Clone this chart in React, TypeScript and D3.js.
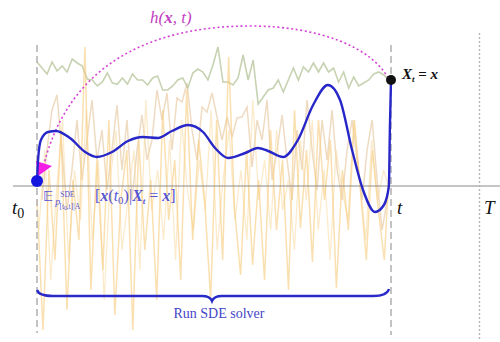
import React from "react";
import * as d3 from "d3";

const W = 500;
const H = 342;

// time marks: t0, t, T
const T_START = 0;
const T_NOW = 100;
const T_END = 125;

// mean trajectory (time, value)
const blueT = [0, 0.3, 1.1, 3.1, 5.4, 9.3, 13.6, 16.9, 21.2, 25.7, 29.9, 34.2, 38.1, 42.7, 46.9, 50.3, 54, 58.8, 62.4, 65.3, 69.5, 73.7, 78, 82.2, 85.6, 89, 92.1, 95.5, 98, 99.4, 99.7, 100];
const blueV = [5, 26, 46, 54, 55, 48, 34, 29, 34, 45, 49, 48, 55, 61, 54, 38, 28, 33, 38, 35, 29, 46, 81, 101, 86, 36, -4, -26, -19, 0, 60, 106];

// sample paths (evenly spaced in time)
const greenV = [124, 118, 112, 124, 115, 120, 114, 127, 123, 120, 107, 106, 100, 104, 113, 103, 102, 108, 102, 112, 106, 106, 101, 108, 110, 96, 96, 100, 106, 108, 98, 113, 117, 114, 106, 121, 139, 104, 104, 101, 108, 131, 106, 126, 82, 89, 96, 98, 106, 94, 106, 118, 106, 119, 114, 123, 114, 123, 114, 118, 104, 114, 98, 109, 100, 103, 106, 112, 114, 111, 106];
const tanV = [-14, 36, 76, 91, 36, -24, 16, 66, 6, 46, 86, 26, 56, -4, 36, 81, 16, 66, -14, 36, 71, 26, 46, 96, 66, 93, 36, 88, 84, 103, 56, 26, 79, 74, 93, 69, 46, 69, 49, 68, 69, 79, 19, 66, 46, 86, 6, 36, 71, 26, -14, 56, 16, 86, 36, -4, 66, 26, 76, 16, -14, 36, 66, 26, -14, 36, 66, 6, -44, -14];
const orangeAV = [-14, -144, 16, -74, 56, -124, 6, -54, 139, -104, 26, -84, 66, -129, -14, 36, -144, 46, -64, 6, -114, 76, -34, 26, -94, 96, -54, 46, -14, -114, 66, -74, 129, -24, -89, 36, -79, 6, -94, 56, -44, 26, -104, 76, -42, 36, -76, 66, -14, 46, -102, 16, -44, 66, -4, -74, 36, -24, -74, 36];
const orangeBV = [-44, 36, -94, -4, 66, -74, 16, -34, 76, -54, 26, -114, 6, 56, -64, -14, 36, -84, 86, -24, 16, -54, 46, -74, 66, -4, -44, 26, -24, 76, -64, 6, 56, -34, 16, -54, 86, -14, 26, -44, 56, -24, 6, -64, 46, -14, 66, -44, 16, -74, 36, -4, -34, 66, 6, -54, 46, -14, 16, -4];

const spread = (vals: number[], a: number, b: number): [number, number][] =>
  vals.map((v, i) => [a + ((b - a) * i) / (vals.length - 1), v]);

const serif = "'Liberation Serif', 'DejaVu Serif', serif";
const labelBlue = "#5555d4";

const App = () => {
  const x = d3.scaleLinear().domain([T_START, T_END]).range([37, 479.5]);
  const y = d3.scaleLinear().domain([0, 100]).range([186, 86]);

  const line = d3
    .line<[number, number]>()
    .x((d) => x(d[0]))
    .y((d) => y(d[1]));
  const smooth = d3
    .line<[number, number]>()
    .x((d) => x(d[0]))
    .y((d) => y(d[1]))
    .curve(d3.curveMonotoneX);

  const bluePts = blueT.map((t, i) => [t, blueV[i]] as [number, number]);

  const x0 = x(T_START);
  const xt = x(T_NOW);
  const xT = x(T_END);
  const yAxis = y(0);
  const dotTop = bluePts[bluePts.length - 1];
  const dotBottom = bluePts[0];

  // dotted arc h(x,t) from X_t back to t0
  const arc = d3.path();
  arc.moveTo(x(dotTop[0]) - 3, y(dotTop[1]) - 2);
  arc.bezierCurveTo(372, 48, 320, 26, 250, 26);
  arc.bezierCurveTo(150, 26, 65, 65, x0 + 5, y(dotBottom[1]) - 8);

  // brace under the interval
  const yb = 296;
  const xm = (x0 + xt) / 2 - 2;
  const brace = d3.path();
  brace.moveTo(x0, yb - 6);
  brace.quadraticCurveTo(x0 + 2, yb, x0 + 16, yb);
  brace.lineTo(xm - 10, yb);
  brace.quadraticCurveTo(xm - 2, yb, xm, yb + 5);
  brace.quadraticCurveTo(xm + 2, yb, xm + 10, yb);
  brace.lineTo(xt - 18, yb);
  brace.quadraticCurveTo(xt - 4, yb, xt - 2, yb - 7);

  const by = y(dotBottom[1]);

  return (
    <svg width={W} height={H} style={{ position: "absolute", left: 0, top: 0 }}>
      <rect width={W} height={H} fill="#fff" />

      {/* sample paths */}
      <path d={line(spread(tanV, 1.4, 98.9))!} fill="none" stroke="#e9cfae" strokeWidth={1.5} opacity={0.75} />
      <path d={line(spread(greenV, 0, 99.4))!} fill="none" stroke="#bccaa3" strokeWidth={1.6} opacity={0.85} />
      <path d={line(spread(orangeBV, 0.5, 99.6))!} fill="none" stroke="#f8dba2" strokeWidth={1.3} opacity={0.55} />
      <path d={line(spread(orangeAV, 0, 99.8))!} fill="none" stroke="#f7cb7c" strokeWidth={1.5} opacity={0.6} />

      {/* time axis */}
      <line x1={13} x2={W} y1={yAxis} y2={yAxis} stroke="#8a8a8a" strokeWidth={1} />
      <line x1={x0} x2={x0} y1={45} y2={333} stroke="#b5b5b5" strokeWidth={1.6} strokeDasharray="7,4" />
      <line x1={xt} x2={xt} y1={45} y2={335} stroke="#b5b5b5" strokeWidth={1.6} strokeDasharray="7,4" />
      <line x1={xT} x2={xT} y1={33} y2={340} stroke="#b5b5b5" strokeWidth={1.4} strokeDasharray="2,2" />

      <text x={12} y={214} fontFamily={serif} fontStyle="italic" fontSize={19} fill="#111">
        t<tspan fontStyle="normal" fontSize={14} dy={4}>0</tspan>
      </text>
      <text x={397} y={214} fontFamily={serif} fontStyle="italic" fontSize={19} fill="#111">t</text>
      <text x={484} y={214} fontFamily={serif} fontStyle="italic" fontSize={19} fill="#111">T</text>

      {/* h(x,t) arc */}
      <path d={arc.toString()} fill="none" stroke="#d63fd6" strokeWidth={1.6} strokeDasharray="2,2.6" />
      <polygon points={`${x0 + 1},${by - 5} ${x0 - 1},${by - 20} ${x0 + 15},${by - 15}`} fill="#f31fe6" />
      <text x={150} y={23} fontFamily={serif} fontStyle="italic" fontSize={17} fill="#c33fc3">
        h(<tspan fontWeight="bold">x</tspan>, t)
      </text>

      {/* mean trajectory */}
      <path d={smooth(bluePts)!} fill="none" stroke="#2727c9" strokeWidth={2.4} />
      <circle cx={x(dotBottom[0])} cy={by} r={6} fill="#1515e0" />
      <circle cx={x(dotTop[0])} cy={y(dotTop[1])} r={5} fill="#111" />

      <text x={402} y={79} fontFamily={serif} fontStyle="italic" fontWeight="bold" fontSize={15} fill="#111">
        X<tspan fontSize={9} dy={3}>t</tspan>
        <tspan dy={-3} fontStyle="normal"> = </tspan>x
      </text>

      <text x={43} y={201} fontFamily={serif} fontSize={15} fill={labelBlue}>
        <tspan fontFamily="'DejaVu Sans', sans-serif" fontSize={14}>𝔼</tspan>
        <tspan fontStyle="italic" fontSize={10} dx={2} dy={4}>p</tspan>
        <tspan fontSize={7.5} dy={-8}>SDE</tspan>
        <tspan fontSize={7.5} dx={-15} dy={12}>[t</tspan>
        <tspan fontSize={5.5} dy={1}>0</tspan>
        <tspan fontSize={7.5} dy={-1}>,t]|A</tspan>
        <tspan x={95} y={201} fontSize={16}>[</tspan>
        <tspan fontSize={16} fontWeight="bold" fontStyle="italic">x</tspan>
        <tspan fontSize={16}>(</tspan>
        <tspan fontSize={16} fontStyle="italic">t</tspan>
        <tspan fontSize={11} dy={3}>0</tspan>
        <tspan fontSize={16} dy={-3}>)|</tspan>
        <tspan fontSize={16} fontWeight="bold" fontStyle="italic">X</tspan>
        <tspan fontSize={9} dy={3} fontStyle="italic" fontWeight="bold">t</tspan>
        <tspan fontSize={16} dy={-3}> = </tspan>
        <tspan fontSize={16} fontWeight="bold" fontStyle="italic">x</tspan>
        <tspan fontSize={16}>]</tspan>
      </text>

      {/* solver brace */}
      <path d={brace.toString()} fill="none" stroke="#2a2ac8" strokeWidth={2.4} />
      <text x={219} y={318} textAnchor="middle" fontFamily={serif} fontSize={14} fill="#4545c8">
        Run SDE solver
      </text>
    </svg>
  );
};

export default App;
